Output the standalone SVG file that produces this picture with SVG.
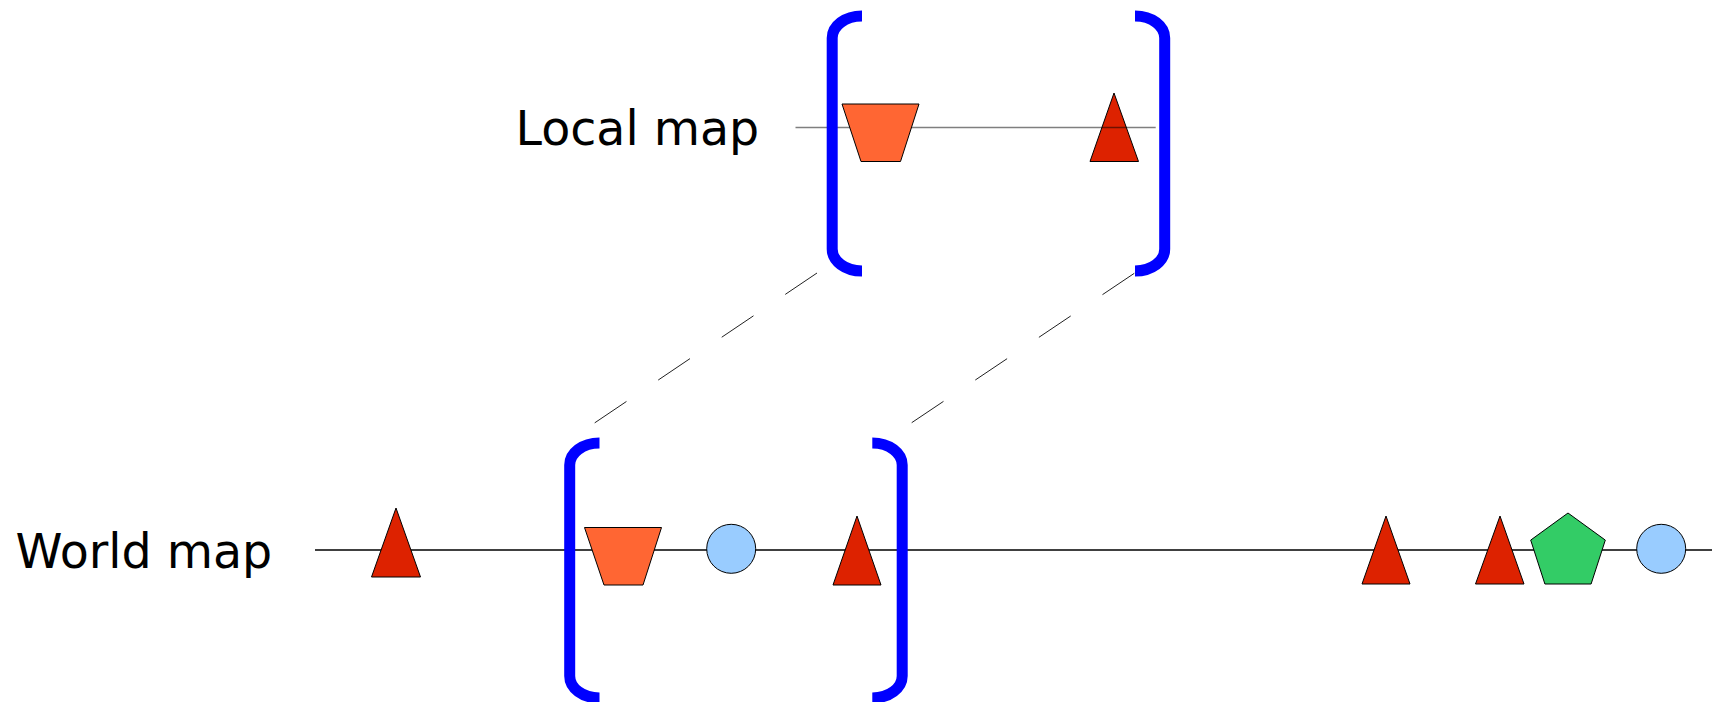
<svg xmlns="http://www.w3.org/2000/svg" width="1712" height="702" viewBox="0 0 1712 702">
<style>
.label{font-family:"DejaVu Sans","Liberation Sans",sans-serif;font-size:47.5px;fill:#000}
.bracket{fill:none;stroke:#0000ff;stroke-width:11;stroke-linecap:butt}
.tri{fill:#dd2200;stroke:#000;stroke-width:1}
.trap{fill:#ff6633;stroke:#000;stroke-width:1}
.circ{fill:#99ccff;stroke:#000;stroke-width:1}
.pent{fill:#33cc66;stroke:#000;stroke-width:1}
.dash{fill:none;stroke:#222;stroke-width:1;stroke-dasharray:38.3 38.3}
</style>
<rect width="1712" height="702" fill="#fff"/>
<g id="label-local"><text class="label" x="515.5" y="145">Local map</text></g>
<g id="label-world"><text class="label" x="15.5" y="568">World map</text></g>

<!-- Local map -->
<g id="local-triangle"><polygon class="tri" points="1114,93 1138.5,161.5 1090,161.5"/></g>
<g id="local-axis"><line x1="795.5" y1="127.5" x2="1155.7" y2="127.5" stroke="#000" stroke-opacity="0.5" stroke-width="1.4"/></g>
<g id="local-trapezoid"><polygon class="trap" points="842,104 919,104 900.5,161.5 861,161.5"/></g>
<g id="local-bracket-left"><path class="bracket" d="M862,16 C845,16 832.2,26 832.2,38 V249 C832.2,261 845,271 862,271"/></g>
<g id="local-bracket-right"><path class="bracket" d="M1135,16 C1152,16 1164.7,26 1164.7,38 V249 C1164.7,261 1152,271 1135,271"/></g>

<!-- World map -->
<g id="world-axis"><line x1="315" y1="550" x2="1712" y2="550" stroke="#000" stroke-width="1.3"/></g>
<g id="world-triangle-1"><polygon class="tri" points="396,508 420.5,577 371.5,577"/></g>
<g id="world-trapezoid"><polygon class="trap" points="584.5,527.5 661.5,527.5 643,585 604,585"/></g>
<g id="world-circle-1"><circle class="circ" cx="731.2" cy="548.8" r="24.5"/></g>
<g id="world-triangle-2"><polygon class="tri" points="857,516 881,585 833,585"/></g>
<g id="world-triangle-3"><polygon class="tri" points="1386,516 1410,584 1362,584"/></g>
<g id="world-triangle-4"><polygon class="tri" points="1500,516 1524,584 1475.5,584"/></g>
<g id="world-pentagon"><polygon class="pent" points="1568,513 1605.3,540.1 1591.1,584 1544.9,584 1530.7,540.1"/></g>
<g id="world-circle-2"><circle class="circ" cx="1661.2" cy="548.8" r="24.5"/></g>
<g id="world-bracket-left"><path class="bracket" d="M599.5,443 C582.5,443 569.7,453 569.7,465 V676 C569.7,688 582.5,698 599.5,698"/></g>
<g id="world-bracket-right"><path class="bracket" d="M872.3,443 C889.3,443 902.2,453 902.2,465 V676 C902.2,688 889.3,698 872.3,698"/></g>

<!-- Connectors -->
<g id="connectors">
<line class="dash" x1="817" y1="273" x2="594.5" y2="423"/>
<line class="dash" x1="1134.3" y1="273.3" x2="911.7" y2="422.7"/>
</g>
</svg>
